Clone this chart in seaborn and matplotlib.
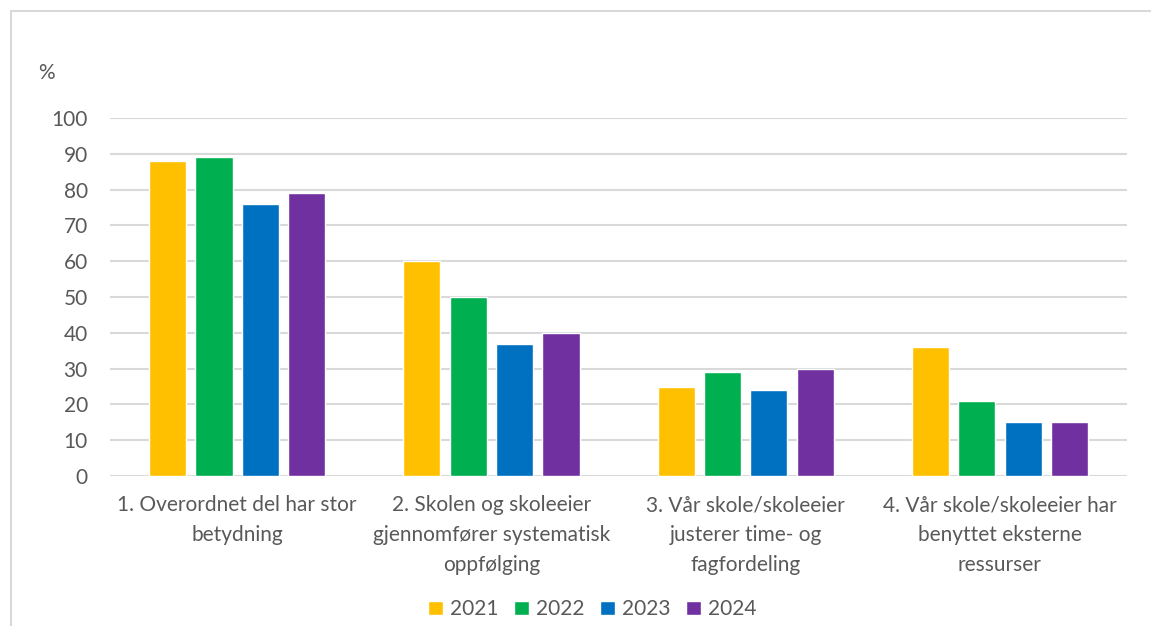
import pandas as pd
import matplotlib.pyplot as plt
import seaborn as sns
from matplotlib.lines import Line2D

# -------------------------------------------------
# Data
# -------------------------------------------------
categories = [
    "1. Overordnet del har stor\nbetydning",
    "2. Skolen og skoleeier\ngjennomfører systematisk\noppfølging",
    "3. Vår skole/skoleeier\njusterer time- og\nfagfordeling",
    "4. Vår skole/skoleeier har\nbenyttet eksterne\nressurser",
]
years = ["2021", "2022", "2023", "2024"]
values_2021 = [88, 60, 25, 36]
values_2022 = [89, 50, 29, 21]
values_2023 = [76, 37, 24, 15]
values_2024 = [79, 40, 30, 15]
colors = ["#FFC000", "#00B050", "#0070C0", "#7030A0"]

df = pd.DataFrame({
    "category": categories * 4,
    "year": [y for y in years for _ in categories],
    "value": values_2021 + values_2022 + values_2023 + values_2024,
})

sns.set_theme(style="white")
plt.rcParams["font.family"] = ["Lato", "DejaVu Sans"]
text_color = "#595959"
grid_color = "#D9D9D9"
fs = 15

fig = plt.figure(figsize=(11.51, 6.26), dpi=100)
ax = fig.add_axes([0.0956, 0.2396, 0.8836, 0.5719])

sns.barplot(
    data=df, x="category", y="value", hue="year",
    palette=colors, width=0.73, gap=0.2, saturation=1,
    ax=ax, zorder=3,
)

ax.set_ylim(0, 100)
ax.set_yticks(range(0, 101, 10))
ax.set_xlim(-0.5, 3.5)
ax.yaxis.grid(True, color=grid_color, linewidth=1.5, zorder=0)
ax.set_axisbelow(True)
for s in ax.spines.values():
    s.set_visible(False)
ax.set_xlabel("")
ax.set_ylabel("")
ax.tick_params(axis="both", length=0, labelsize=fs, colors=text_color)
ax.tick_params(axis="y", pad=16)
ax.tick_params(axis="x", pad=14)
for lbl in ax.get_xticklabels():
    lbl.set_linespacing(1.62)

fig.text(0.033, 0.883, "%", fontsize=fs, color=text_color, va="center")

leg = ax.legend(
    loc="center", bbox_to_anchor=(0.474, -0.372), ncol=4,
    frameon=False, fontsize=fs, handlelength=0.7, handleheight=0.7,
    handletextpad=0.35, columnspacing=0.75,
)
for t in leg.get_texts():
    t.set_color(text_color)

# outer chart border (left and top edge visible in the crop)
fig.add_artist(Line2D([0.0095, 0.0095], [0, 0.982], color=grid_color, linewidth=1.5))
fig.add_artist(Line2D([0.0095, 1.0], [0.982, 0.982], color=grid_color, linewidth=1.5))

fig.savefig("out.png", dpi=100, facecolor="white")
